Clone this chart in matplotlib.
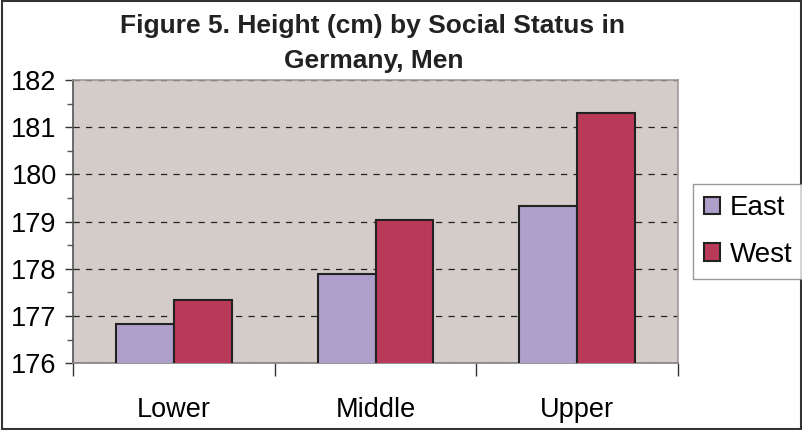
import numpy as np
import matplotlib.pyplot as plt
from matplotlib.patches import Rectangle
from matplotlib.ticker import MultipleLocator

# Dados
categorias = ['Lower', 'Middle', 'Upper']
east = [176.83, 177.89, 179.33]
west = [177.35, 179.03, 181.31]
series = ['East', 'West']

cor_fundo = '#D3CCC9'
cor_east = '#AF9FCB'
cor_west = '#B93A58'

plt.rcParams['font.family'] = ['Liberation Sans', 'DejaVu Sans']

fig = plt.figure(figsize=(8.03, 4.30), dpi=100)
ax = fig.add_axes([73.3 / 803, 1 - 363.3 / 430, (677.7 - 73.3) / 803, (363.3 - 80) / 430])
ax.set_facecolor(cor_fundo)

x = np.arange(len(categorias))
w = 0.287
ax.bar(x - w / 2, east, w, color=cor_east, edgecolor='#222222', linewidth=1.5, label=series[0], zorder=3)
ax.bar(x + w / 2, west, w, color=cor_west, edgecolor='#222222', linewidth=1.5, label=series[1], zorder=3)

ax.set_ylim(176, 182)
ax.set_xlim(-0.5, 2.5)

# Eixo y
ax.yaxis.set_major_locator(MultipleLocator(1))
ax.yaxis.set_minor_locator(MultipleLocator(0.5))
ax.tick_params(axis='y', which='major', length=6, width=1, color='#333333', labelsize=19.5, pad=6)
ax.tick_params(axis='y', which='minor', length=4, width=1, color='#555555')
ax.grid(axis='y', which='major', color='#222222', linestyle=(0, (5, 5)), linewidth=0.9, zorder=1)

# Eixo x: marcas entre categorias, rótulos no centro
ax.set_xticks([-0.5, 0.5, 1.5, 2.5])
ax.set_xticklabels([])
ax.set_xticks(x, minor=True)
ax.set_xticklabels(categorias, minor=True)
ax.tick_params(axis='x', which='major', length=9, width=1, color='#333333', direction='out')
ax.tick_params(axis='x', which='minor', length=0, labelsize=19.5, pad=24)

for lado in ['top', 'right']:
    ax.spines[lado].set_color('#A09898')
    ax.spines[lado].set_linewidth(1.2)
ax.spines['left'].set_color('#555555')
ax.spines['bottom'].set_color('#808080')
ax.spines['left'].set_linewidth(1.2)
ax.spines['bottom'].set_linewidth(1.2)

# Título
fig.text(372.5 / 803, 1 - 33 / 430, 'Figure 5. Height (cm) by Social Status in',
         ha='center', va='baseline', fontsize=19, fontweight='bold', color='#222222')
fig.text(373.5 / 803, 1 - 68 / 430, 'Germany, Men',
         ha='center', va='baseline', fontsize=19, fontweight='bold', color='#222222')

# Legenda
leg = fig.legend(loc='upper left', bbox_to_anchor=(692.7 / 803, 1 - 184 / 430),
                 fontsize=20, frameon=True, fancybox=False, edgecolor='#808080',
                 handlelength=0.6, handleheight=0.6, handletextpad=0.35,
                 labelspacing=0.75, borderpad=0.4, borderaxespad=0)
leg.get_frame().set_linewidth(1.0)

# Moldura da figura
fig.patches.append(Rectangle((0.002, 0.003), 0.996, 0.994, transform=fig.transFigure,
                             fill=False, edgecolor='#333333', linewidth=1.5))

fig.savefig('out.png', dpi=100)
